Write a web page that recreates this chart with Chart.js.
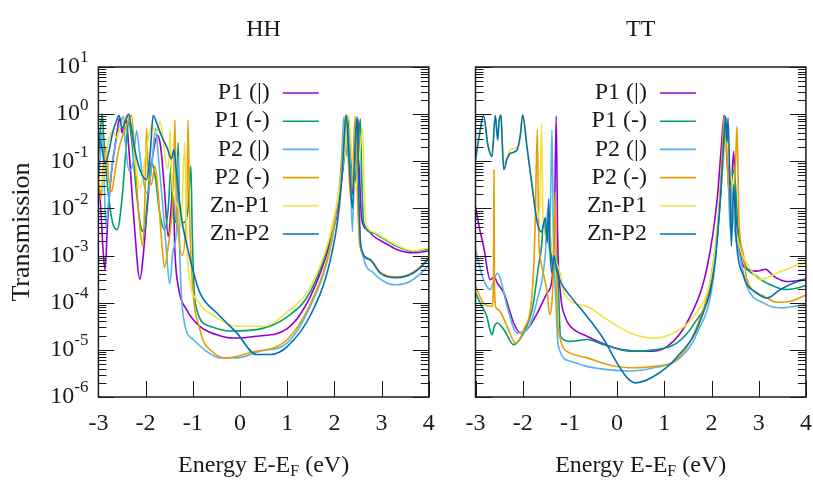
<!DOCTYPE html>
<html>
<head>
<meta charset="utf-8">
<script src="https://cdn.jsdelivr.net/npm/chart.js@4.4.0/dist/chart.umd.min.js"></script>
<style>
  html, body { margin: 0; padding: 0; background: #fff; }
  #wrap { position: relative; width: 813px; height: 482px; overflow: hidden; }
  canvas { position: absolute; top: 0; }
</style>
</head>
<body>
<div id="wrap">
  <canvas id="hh" width="452" height="482" style="left:0"></canvas>
  <canvas id="tt" width="361" height="482" style="left:452px"></canvas>
</div>
<script>
// series labels and colours (gnuplot default palette)
const seriesNames = ['P1 (|)', 'P1 (-)', 'P2 (|)', 'P2 (-)', 'Zn-P1', 'Zn-P2'];
const seriesColors = ['#9400d3', '#009e73', '#56b4e9', '#e69f00', '#f0e442', '#0072b2'];
const xTicks = [-3, -2, -1, 0, 1, 2, 3, 4];
const yDecades = [-6, -5, -4, -3, -2, -1, 0, 1];

// each point: [E - EF (eV), log10 of transmission]
// ---- HH ----
const hhP1par = [[-3.0,-1.3],[-2.95,-2.0],[-2.9,-2.9],[-2.86,-3.3],[-2.8,-2.2],[-2.72,-1.2],[-2.62,-0.5],[-2.55,-0.08],[-2.5,-0.4],[-2.42,-0.05],[-2.35,-0.8],[-2.25,-2.2],[-2.12,-3.5],[-2.05,-3.0],[-1.95,-1.8],[-1.85,-0.9],[-1.75,-0.45],[-1.68,-0.7],[-1.6,-1.6],[-1.52,-2.6],[-1.46,-2.0],[-1.42,-1.5],[-1.38,-2.9],[-1.3,-3.7],[-1.13,-4.15],[-0.85,-4.5],[-0.49,-4.68],[-0.14,-4.75],[0.35,-4.71],[1.0,-4.55],[1.5,-3.85],[1.9,-2.75],[2.1,-1.85],[2.2,-0.9],[2.26,-0.05],[2.32,-0.8],[2.38,-1.7],[2.44,-0.9],[2.5,-0.1],[2.54,-1.5],[2.58,-2.24],[2.7,-2.45],[2.83,-2.59],[3.1,-2.75],[3.32,-2.87],[3.67,-2.94],[3.95,-2.91],[4.0,-2.9]];
const hhP1perp = [[-3.0,-0.9],[-2.95,-0.25],[-2.92,0.0],[-2.88,-0.6],[-2.8,-1.6],[-2.7,-2.3],[-2.6,-2.45],[-2.5,-1.8],[-2.42,-0.8],[-2.36,-0.15],[-2.3,-0.5],[-2.2,-1.6],[-2.1,-2.4],[-2.03,-2.5],[-1.96,-1.8],[-1.88,-1.0],[-1.8,-1.3],[-1.7,-2.1],[-1.6,-2.45],[-1.52,-2.0],[-1.46,-1.1],[-1.43,-2.0],[-1.36,-2.3],[-1.31,-0.6],[-1.28,-2.2],[-1.2,-2.3],[-1.1,-2.0],[-1.04,-1.1],[-1.01,-2.6],[-0.95,-4.0],[-0.64,-4.5],[-0.21,-4.6],[0.35,-4.57],[1.0,-4.3],[1.5,-3.75],[1.9,-2.65],[2.1,-1.7],[2.2,-1.0],[2.28,-0.05],[2.35,-0.9],[2.42,-1.5],[2.5,-0.7],[2.55,-0.1],[2.58,-1.4],[2.62,-2.31],[2.83,-2.52],[3.0,-2.62],[3.32,-2.8],[3.67,-2.91],[3.95,-2.87],[4.0,-2.86]];
const hhP2par = [[-3.0,-1.5],[-2.96,-0.9],[-2.92,-0.35],[-2.88,-1.4],[-2.84,-2.4],[-2.78,-1.8],[-2.7,-1.0],[-2.62,-0.55],[-2.55,-0.3],[-2.48,-0.05],[-2.43,-0.6],[-2.35,-1.2],[-2.26,-1.0],[-2.19,-0.35],[-2.13,-0.8],[-2.05,-1.4],[-1.96,-1.7],[-1.86,-1.0],[-1.79,-0.3],[-1.73,-0.9],[-1.64,-1.9],[-1.56,-2.9],[-1.49,-3.6],[-1.42,-2.9],[-1.34,-2.4],[-1.31,-0.9],[-1.28,-2.8],[-1.2,-4.3],[-0.99,-4.78],[-0.71,-5.03],[-0.42,-5.17],[-0.07,-5.17],[0.42,-5.03],[1.0,-4.85],[1.5,-4.05],[1.9,-2.9],[2.08,-1.8],[2.15,-1.0],[2.2,-0.05],[2.26,-0.9],[2.31,-0.3],[2.38,-2.49],[2.43,-0.9],[2.46,-0.15],[2.52,-2.3],[2.61,-3.02],[2.83,-3.37],[3.11,-3.58],[3.32,-3.62],[3.6,-3.55],[3.95,-3.26],[4.0,-3.2]];
const hhP2perp = [[-3.0,-1.2],[-2.95,-1.8],[-2.9,-1.2],[-2.84,-0.7],[-2.78,-1.4],[-2.72,-1.64],[-2.66,-1.3],[-2.58,-0.8],[-2.5,-0.5],[-2.4,-0.23],[-2.3,-0.02],[-2.22,-1.0],[-2.14,-2.2],[-2.06,-2.8],[-2.01,-1.6],[-1.98,-0.3],[-1.95,-1.1],[-1.88,-1.5],[-1.8,-1.1],[-1.74,-1.6],[-1.66,-2.7],[-1.6,-3.25],[-1.52,-2.8],[-1.45,-2.2],[-1.41,-1.6],[-1.38,-0.12],[-1.35,-1.8],[-1.3,-2.6],[-1.22,-3.0],[-1.15,-2.4],[-1.12,-1.5],[-1.1,-0.12],[-1.07,-2.0],[-1.02,-3.4],[-0.85,-4.57],[-0.56,-5.06],[-0.28,-5.17],[0.21,-5.06],[1.0,-4.78],[1.5,-4.0],[1.9,-2.85],[2.1,-1.6],[2.18,-0.8],[2.24,-0.02],[2.29,-0.9],[2.35,-1.8],[2.4,-0.9],[2.44,-0.05],[2.49,-1.8],[2.54,-2.8],[2.75,-3.07],[2.97,-3.35],[3.32,-3.45],[3.67,-3.35],[3.95,-3.1],[4.0,-3.03]];
const hhZnP1 = [[-3.0,-1.3],[-2.95,-1.6],[-2.88,-1.2],[-2.79,-0.58],[-2.7,-0.35],[-2.62,-0.5],[-2.55,-0.3],[-2.45,-0.1],[-2.38,-0.02],[-2.3,-0.3],[-2.22,-1.0],[-2.12,-1.57],[-2.02,-1.0],[-1.94,-0.5],[-1.87,-0.23],[-1.78,-0.4],[-1.69,-0.16],[-1.62,-0.6],[-1.55,-1.15],[-1.5,-0.9],[-1.48,-0.33],[-1.45,-1.3],[-1.38,-1.8],[-1.3,-2.0],[-1.25,-2.4],[-1.17,-0.6],[-1.13,-2.6],[-1.05,-3.6],[-0.92,-3.93],[-0.49,-4.32],[-0.07,-4.5],[0.49,-4.5],[1.0,-4.2],[1.5,-3.65],[1.9,-2.6],[2.1,-1.6],[2.2,-0.9],[2.3,-0.02],[2.37,-0.9],[2.45,-1.6],[2.53,-0.9],[2.6,-0.3],[2.63,-1.6],[2.68,-2.35],[2.83,-2.5],[3.0,-2.6],[3.32,-2.78],[3.67,-2.9],[3.95,-2.85],[4.0,-2.84]];
const hhZnP2 = [[-3.0,-0.5],[-2.93,-0.69],[-2.86,-1.05],[-2.78,-0.8],[-2.7,-0.4],[-2.62,-0.15],[-2.56,-0.03],[-2.5,-0.3],[-2.44,-0.2],[-2.36,0.0],[-2.3,-0.3],[-2.24,-0.7],[-2.12,-1.18],[-1.98,-1.39],[-1.9,-0.8],[-1.84,-0.03],[-1.76,-0.2],[-1.66,-0.47],[-1.55,-0.7],[-1.45,-0.95],[-1.4,-0.75],[-1.35,-1.2],[-1.24,-2.2],[-1.12,-2.8],[-1.0,-3.3],[-0.85,-3.79],[-0.49,-4.22],[-0.07,-4.64],[0.35,-5.1],[0.64,-5.1],[1.0,-4.93],[1.5,-4.25],[1.9,-3.15],[2.1,-2.0],[2.18,-1.0],[2.25,-0.02],[2.31,-0.9],[2.38,-2.0],[2.43,-0.9],[2.48,-0.05],[2.52,-1.8],[2.56,-2.8],[2.75,-3.09],[2.97,-3.37],[3.32,-3.47],[3.67,-3.37],[3.95,-3.12],[4.0,-3.05]];

// ---- TT ----
const ttP1par = [[-3.0,-1.96],[-2.92,-2.4],[-2.83,-2.8],[-2.69,-3.51],[-2.6,-3.45],[-2.54,-3.58],[-2.4,-3.79],[-2.19,-4.43],[-2.05,-4.64],[-1.91,-4.57],[-1.69,-4.22],[-1.48,-3.79],[-1.38,-3.51],[-1.33,-2.5],[-1.29,-0.04],[-1.26,-2.6],[-1.2,-3.8],[-1.1,-4.3],[-0.99,-4.5],[-0.64,-4.71],[0.07,-4.99],[0.64,-5.03],[1.06,-4.93],[1.55,-4.29],[1.91,-3.23],[2.12,-1.81],[2.2,-0.8],[2.27,-0.02],[2.33,-1.0],[2.4,-1.9],[2.47,-0.79],[2.52,-2.2],[2.6,-2.9],[2.68,-3.23],[2.96,-3.33],[3.14,-3.29],[3.32,-3.44],[3.6,-3.55],[3.95,-3.51],[4.0,-3.5]];
const ttP1perp = [[-3.0,-3.79],[-2.88,-4.05],[-2.76,-4.29],[-2.7,-4.55],[-2.65,-4.68],[-2.6,-4.5],[-2.54,-4.43],[-2.4,-4.57],[-2.19,-4.89],[-1.98,-4.64],[-1.8,-4.15],[-1.66,-3.2],[-1.6,-2.8],[-1.56,-2.3],[-1.5,-2.6],[-1.44,-2.2],[-1.4,-2.9],[-1.34,-3.4],[-1.28,-3.0],[-1.24,-3.8],[-1.2,-4.71],[-0.99,-4.82],[-0.64,-4.78],[-0.28,-4.89],[0.28,-5.03],[0.78,-5.0],[1.27,-4.85],[1.62,-4.46],[1.98,-3.65],[2.15,-2.3],[2.23,-1.2],[2.3,-0.3],[2.35,-1.0],[2.4,-1.5],[2.46,-1.2],[2.5,-1.4],[2.56,-2.4],[2.68,-3.09],[2.96,-3.44],[3.32,-3.65],[3.6,-3.72],[3.95,-3.65],[4.0,-3.63]];
const ttP2par = [[-3.0,-2.87],[-2.92,-3.2],[-2.83,-3.51],[-2.69,-3.72],[-2.6,-3.5],[-2.54,-3.37],[-2.47,-3.5],[-2.33,-4.08],[-2.12,-4.64],[-1.91,-4.57],[-1.69,-3.93],[-1.52,-2.95],[-1.47,-2.0],[-1.44,-2.9],[-1.41,-1.9],[-1.38,-0.33],[-1.35,-2.6],[-1.3,-3.9],[-1.25,-4.9],[-0.99,-5.24],[-0.64,-5.35],[-0.21,-5.42],[0.28,-5.45],[0.78,-5.38],[1.27,-5.22],[1.69,-4.65],[2.05,-3.4],[2.18,-1.8],[2.25,-0.7],[2.3,-0.08],[2.35,-1.2],[2.4,-2.5],[2.44,-1.4],[2.48,-2.3],[2.6,-3.0],[2.75,-3.65],[3.11,-4.01],[3.46,-4.11],[3.74,-4.08],[3.95,-4.04],[4.0,-4.03]];
const ttP2perp = [[-3.0,-3.65],[-2.83,-4.01],[-2.65,-4.08],[-2.62,-3.5],[-2.61,-1.18],[-2.6,-3.5],[-2.57,-4.1],[-2.51,-4.15],[-2.33,-4.5],[-2.15,-4.86],[-1.98,-4.57],[-1.8,-3.79],[-1.74,-2.5],[-1.69,-0.33],[-1.66,-2.6],[-1.62,-3.09],[-1.48,-3.79],[-1.43,-4.25],[-1.36,-3.6],[-1.31,-1.64],[-1.28,-3.7],[-1.24,-4.6],[-0.99,-5.07],[-0.64,-5.17],[-0.21,-5.31],[0.28,-5.38],[0.78,-5.35],[1.27,-5.2],[1.65,-4.6],[2.0,-3.4],[2.15,-2.1],[2.22,-1.0],[2.27,-0.05],[2.35,-1.3],[2.43,-2.1],[2.51,-1.0],[2.54,-0.26],[2.58,-2.2],[2.68,-3.0],[2.75,-3.51],[3.11,-3.86],[3.39,-3.99],[3.67,-3.97],[3.95,-3.86],[4.0,-3.84]];
const ttZnP1 = [[-3.0,-0.97],[-2.92,-0.5],[-2.83,-0.03],[-2.74,-0.6],[-2.66,-0.85],[-2.58,-0.03],[-2.53,-0.5],[-2.5,-0.2],[-2.46,-0.02],[-2.43,-0.6],[-2.4,-1.05],[-2.33,-0.9],[-2.26,-0.75],[-2.12,-0.7],[-2.05,-0.4],[-2.0,-0.02],[-1.91,-0.69],[-1.8,-1.53],[-1.7,-2.2],[-1.64,-2.0],[-1.6,-0.2],[-1.57,-2.2],[-1.5,-2.6],[-1.45,-2.0],[-1.4,-2.8],[-1.3,-3.1],[-1.2,-3.4],[-1.13,-3.79],[-0.64,-4.08],[-0.21,-4.36],[0.28,-4.64],[0.78,-4.75],[1.2,-4.64],[1.62,-4.29],[1.98,-3.51],[2.12,-2.5],[2.22,-1.3],[2.32,-0.5],[2.39,-1.18],[2.44,-1.5],[2.5,-2.3],[2.62,-2.9],[2.75,-3.16],[3.04,-3.51],[3.39,-3.37],[3.74,-3.23],[3.95,-3.16],[4.0,-3.15]];
const ttZnP2 = [[-3.0,-0.97],[-2.92,-0.45],[-2.83,-0.03],[-2.74,-0.65],[-2.65,-0.9],[-2.58,-0.03],[-2.53,-0.55],[-2.5,-0.15],[-2.46,-0.02],[-2.43,-0.7],[-2.4,-1.18],[-2.33,-0.95],[-2.26,-0.83],[-2.12,-0.76],[-2.05,-0.45],[-2.0,-0.02],[-1.91,-0.69],[-1.8,-1.53],[-1.69,-2.31],[-1.6,-2.5],[-1.52,-2.2],[-1.48,-2.73],[-1.45,-1.8],[-1.42,-2.9],[-1.38,-3.37],[-1.34,-3.0],[-1.28,-3.3],[-1.2,-3.55],[-0.99,-3.86],[-0.64,-4.29],[-0.28,-4.78],[0.0,-5.28],[0.21,-5.59],[0.39,-5.7],[0.78,-5.56],[1.27,-5.15],[1.77,-4.36],[2.08,-3.09],[2.2,-1.6],[2.26,-0.6],[2.3,-0.05],[2.33,-0.6],[2.35,-0.08],[2.39,-1.5],[2.42,-2.8],[2.47,-1.5],[2.52,-2.6],[2.68,-3.44],[2.96,-3.79],[3.18,-3.9],[3.46,-3.72],[3.74,-3.58],[3.95,-3.51],[4.0,-3.5]];

const hhSeries = [hhP1par, hhP1perp, hhP2par, hhP2perp, hhZnP1, hhZnP2];
const ttSeries = [ttP1par, ttP1perp, ttP2par, ttP2perp, ttZnP1, ttZnP2];

const serif = '"Liberation Serif", "Times New Roman", serif';
const ink = '#1a1a1a';

function makeDatasets(list) {
    return list.map(function (pts, i) {
        return {
            label: seriesNames[i],
            data: pts.map(p => ({ x: p[0], y: Math.pow(10, p[1]) })),
            borderColor: seriesColors[i],
            borderWidth: 1.6,
            pointRadius: 0,
            fill: false,
            cubicInterpolationMode: 'monotone',
            order: list.length - i   // last series ends up on top
        };
    });
}

// frame, inward ticks, labels and key, drawn gnuplot style
const gnuFrame = {
    id: 'gnuFrame',
    afterDraw(chart, args, opts) {
        const ctx = chart.ctx;
        const a = chart.chartArea;
        const xs = chart.scales.x;
        const ys = chart.scales.y;
        const line = (x1, y1, x2, y2) => {
            ctx.beginPath(); ctx.moveTo(x1, y1); ctx.lineTo(x2, y2); ctx.stroke();
        };
        ctx.save();
        ctx.strokeStyle = ink;
        ctx.fillStyle = ink;

        // y ticks on both sides
        ctx.lineWidth = 1;
        yDecades.forEach(function (d) {
            const y = Math.round(ys.getPixelForValue(Math.pow(10, d))) + 0.5;
            line(a.left, y, a.left + 16, y);
            line(a.right, y, a.right - 16, y);
            if (d < 1) {
                for (let m = 2; m <= 9; m++) {
                    const ym = Math.round(ys.getPixelForValue(m * Math.pow(10, d))) + 0.5;
                    line(a.left, ym, a.left + 8, ym);
                    line(a.right, ym, a.right - 8, ym);
                }
            }
        });
        // x ticks along the bottom
        xTicks.forEach(function (v) {
            const x = Math.round(xs.getPixelForValue(v)) + 0.5;
            line(x, a.bottom, x, a.bottom - 16);
        });

        ctx.lineWidth = 1.5;
        ctx.strokeRect(a.left, a.top, a.right - a.left, a.bottom - a.top);

        // x tick labels
        ctx.font = '24px ' + serif;
        ctx.textAlign = 'center';
        ctx.textBaseline = 'middle';
        xTicks.forEach(function (v) {
            ctx.fillText(String(v), xs.getPixelForValue(v), 424);
        });

        // panel title
        const cx = (a.left + a.right) / 2;
        ctx.fillText(opts.title, cx, 30);

        // x axis title with subscript F
        const big = '24px ' + serif, small = '16px ' + serif;
        ctx.font = big;
        const w1 = ctx.measureText('Energy E-E').width;
        const w3 = ctx.measureText(' (eV)').width;
        ctx.font = small;
        const w2 = ctx.measureText('F').width;
        let x0 = cx - (w1 + w2 + w3) / 2;
        ctx.textAlign = 'left';
        ctx.font = big;
        ctx.fillText('Energy E-E', x0, 466);
        ctx.font = small;
        ctx.fillText('F', x0 + w1, 472);
        ctx.font = big;
        ctx.fillText(' (eV)', x0 + w1 + w2, 466);

        // y tick labels and title on the left panel only
        if (opts.yLabels) {
            yDecades.forEach(function (d) {
                const y = ys.getPixelForValue(Math.pow(10, d));
                ctx.font = big;
                const wb = ctx.measureText('10').width;
                ctx.font = '17px ' + serif;
                const we = ctx.measureText(String(d)).width;
                const xl = a.left - 10 - we - wb;
                ctx.font = big;
                ctx.fillText('10', xl, y);
                ctx.font = '17px ' + serif;
                ctx.fillText(String(d), xl + wb, y - 9);
            });
            ctx.save();
            ctx.translate(22, (a.top + a.bottom) / 2);
            ctx.rotate(-Math.PI / 2);
            ctx.textAlign = 'center';
            ctx.font = '26px ' + serif;
            ctx.fillText('Transmission', 0, 0);
            ctx.restore();
        }

        // key
        ctx.font = big;
        ctx.textAlign = 'right';
        seriesNames.forEach(function (name, i) {
            const y = 93 + 28.2 * i;
            ctx.fillStyle = ink;
            ctx.fillText(name, a.right - 159, y);
            ctx.strokeStyle = seriesColors[i];
            ctx.lineWidth = 1.6;
            line(a.right - 146, y, a.right - 110, y);
        });
        ctx.restore();
    }
};

function makeChart(id, list, title, yLabels, padding) {
    return new Chart(document.getElementById(id).getContext('2d'), {
        type: 'line',
        data: { datasets: makeDatasets(list) },
        options: {
            responsive: false,
            animation: false,
            layout: { padding: padding },
            scales: {
                x: { type: 'linear', min: -3, max: 4, display: false },
                y: { type: 'logarithmic', min: 1e-6, max: 10, display: false }
            },
            plugins: {
                legend: { display: false },
                tooltip: { enabled: false },
                gnuFrame: { title: title, yLabels: yLabels }
            }
        },
        plugins: [gnuFrame]
    });
}

makeChart('hh', hhSeries, 'HH', true, { left: 98.4, right: 23.2, top: 67, bottom: 85 });
makeChart('tt', ttSeries, 'TT', false, { left: 23.5, right: 7.1, top: 67, bottom: 85 });
</script>
</body>
</html>
